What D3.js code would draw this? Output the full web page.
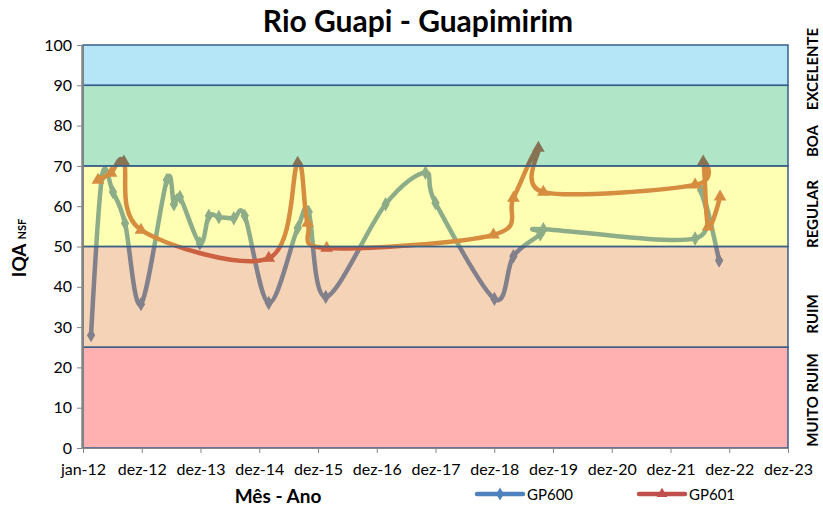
<!DOCTYPE html>
<html>
<head>
<meta charset="utf-8">
<script src="https://d3js.org/d3.v7.min.js"></script>
<style>
  body { margin: 0; background: #fff; font-family: 'Lato', sans-serif; }
  .axis text { font-family: 'Lato', sans-serif; font-size: 16px; fill: #000; }
  .axis path, .axis line { stroke: #868686; }
</style>
</head>
<body>
<svg id="chart" width="823" height="508"></svg>
<script>
// GP600 (blue, diamonds)
const gp600Dates = ["2012-02-20","2012-04-28","2012-07-05","2012-09-18","2012-12-26",
  "2013-06-05","2013-07-19","2013-08-25","2013-12-27","2014-02-21","2014-04-24",
  "2014-07-26","2014-10-02","2015-02-28","2015-08-27","2015-11-03","2016-02-17",
  "2017-02-23","2017-10-29","2017-12-30","2018-12-31","2019-04-28","2019-10-12",
  "2019-10-31","2022-05-31","2022-07-07","2022-10-27"];
const gp600Values = [28, 67.2, 63.5, 55.8, 35.7,
  66.5, 60.5, 62.3, 50.8, 57.6, 57.3,
  57, 57.6, 36, 54.6, 58.6, 37.5,
  60.5, 68.3, 60.8, 37, 47.6, 53,
  54.3, 52, 64, 46.5];

// GP601 (red, triangles)
const gp601Dates = ["2012-04-03","2012-06-23","2012-09-11","2012-12-26","2015-02-28",
  "2015-08-27","2015-10-28","2016-02-23","2018-12-25","2019-04-28","2019-09-30",
  "2019-10-31","2022-05-31","2022-07-20","2022-08-20","2022-11-02"];
const gp601Values = [66.5, 68.2, 71, 54.1, 47.1,
  70.7, 55.8, 49.6, 52.9, 62, 74.4,
  63.5, 65.3, 71, 54.9, 62.3];

const xTickLabels = ["jan-12","dez-12","dez-13","dez-14","dez-15","dez-16","dez-17",
  "dez-18","dez-19","dez-20","dez-21","dez-22","dez-23"];
const yTicks = [0, 10, 20, 30, 40, 50, 60, 70, 80, 90, 100];

// quality classes
const bandLimits = [0, 25, 50, 70, 90, 100];
const bandNames = ["MUITO RUIM", "RUIM", "REGULAR", "BOA", "EXCELENTE"];
const bandColors = ["#ff1d1d", "#e2812e", "#ffff26", "#1db562", "#29b8eb"];
const bandLabelY = [400, 314, 214, 141, 69];

const svg = d3.select("#chart");
const plot = { left: 83, right: 788, top: 45, bottom: 448 };

const parse = d3.timeParse("%Y-%m-%d");
const start = parse("2012-01-01");
const tickDates = xTickLabels.map((d, i) => d3.timeDay.offset(start, 365 * i));

const x = d3.scaleTime()
  .domain([start, tickDates[tickDates.length - 1]])
  .range([plot.left, plot.right]);
const y = d3.scaleLinear().domain([0, 100]).range([plot.bottom, plot.top]);

const series = [
  { name: "GP600", color: "#4f81bd", marker: d3.symbolDiamond,
    data: gp600Dates.map((d, i) => ({ date: parse(d), value: gp600Values[i] })) },
  { name: "GP601", color: "#c0504d", marker: d3.symbolTriangle,
    data: gp601Dates.map((d, i) => ({ date: parse(d), value: gp601Values[i] })) }
];

// lines first, bands are drawn over them with transparency (like the original)
const line = d3.line()
  .x(d => x(d.date))
  .y(d => y(d.value))
  .curve(d3.curveCardinal.tension(0));

series.forEach(s => {
  svg.append("path")
    .datum(s.data)
    .attr("d", line)
    .attr("fill", "none")
    .attr("stroke", s.color)
    .attr("stroke-width", 4.5)
    .attr("stroke-linejoin", "round");

  svg.selectAll(null)
    .data(s.data)
    .enter().append("path")
    .attr("transform", d => `translate(${x(d.date)},${y(d.value)})`)
    .attr("d", d3.symbol().type(s.marker).size(s.marker === d3.symbolDiamond ? 60 : 70))
    .attr("fill", s.color);
});

// quality bands
bandNames.forEach((name, i) => {
  svg.append("rect")
    .attr("x", plot.left)
    .attr("y", y(bandLimits[i + 1]))
    .attr("width", plot.right - plot.left)
    .attr("height", y(bandLimits[i]) - y(bandLimits[i + 1]))
    .attr("fill", bandColors[i])
    .attr("fill-opacity", 0.35)
    .attr("stroke", "#3a5f8b")
    .attr("stroke-width", 1.5);

  svg.append("text")
    .attr("transform", `translate(818,${bandLabelY[i]}) rotate(-90)`)
    .attr("text-anchor", "middle")
    .style("font-size", "15px")
    .style("font-weight", "bold")
    .text(name);
});

// axes
svg.append("g")
  .attr("class", "axis")
  .attr("transform", `translate(0,${plot.bottom})`)
  .call(d3.axisBottom(x).tickValues(tickDates).tickFormat((d, i) => xTickLabels[i])
    .tickSize(5).tickSizeOuter(0).tickPadding(11));

const yAxis = svg.append("g")
  .attr("class", "axis")
  .attr("transform", `translate(${plot.left - 1},0)`)
  .call(d3.axisLeft(y).tickValues(yTicks).tickSize(5).tickSizeOuter(0).tickPadding(5));
yAxis.select(".domain").attr("stroke-width", 2.5);

// titles
svg.append("text")
  .attr("x", 418).attr("y", 32)
  .attr("text-anchor", "middle")
  .style("font-size", "30px")
  .style("font-weight", "bold")
  .text("Rio Guapi - Guapimirim");

svg.append("text")
  .attr("x", 278).attr("y", 503)
  .attr("text-anchor", "middle")
  .style("font-size", "19px")
  .style("font-weight", "bold")
  .text("Mês - Ano");

const yl = svg.append("text")
  .attr("transform", "translate(26,248) rotate(-90)")
  .attr("text-anchor", "middle")
  .style("font-weight", "bold");
yl.append("tspan").style("font-size", "19px").text("IQA ");
yl.append("tspan").style("font-size", "11px").text("NSF");

// legend
const legendX = [477, 639];
series.forEach((s, i) => {
  const g = svg.append("g").attr("transform", `translate(${legendX[i]},494)`);
  g.append("line")
    .attr("x1", 0).attr("x2", 46)
    .attr("stroke", s.color).attr("stroke-width", 4.5)
    .attr("stroke-linecap", "round");
  g.append("path")
    .attr("transform", "translate(23,0)")
    .attr("d", d3.symbol().type(s.marker).size(50))
    .attr("fill", s.color);
  g.append("text")
    .attr("x", 50).attr("y", 6)
    .style("font-size", "15px")
    .text(s.name);
});
</script>
</body>
</html>
